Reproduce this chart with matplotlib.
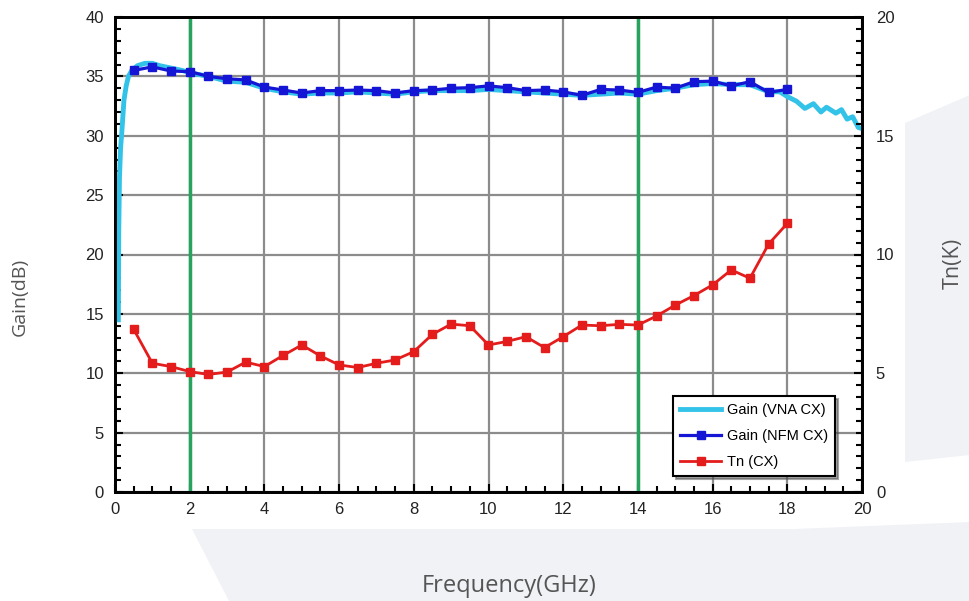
import matplotlib.pyplot as plt
import numpy as np
from matplotlib.patches import Polygon
from matplotlib.ticker import MultipleLocator

# --- data ---
nfm_freq = [0.5, 1.0, 1.5, 2.0, 2.5, 3.0, 3.5, 4.0, 4.5, 5.0, 5.5, 6.0, 6.5, 7.0, 7.5, 8.0, 8.5, 9.0,
            9.5, 10.0, 10.5, 11.0, 11.5, 12.0, 12.5, 13.0, 13.5, 14.0, 14.5, 15.0, 15.5, 16.0, 16.5, 17.0,
            17.5, 18.0]
nfm_gain = [35.5, 35.8, 35.45, 35.4, 35.0, 34.8, 34.7, 34.1, 33.85, 33.6, 33.8, 33.8, 33.85, 33.8, 33.6, 33.8,
            33.85, 34.0, 34.05, 34.2, 34.05, 33.8, 33.85, 33.7, 33.4, 33.9, 33.85, 33.65, 34.1, 34.0, 34.55, 34.6,
            34.2, 34.55, 33.65, 33.9]

tn_cx = [6.85, 5.42, 5.28, 5.07, 4.95, 5.05, 5.47, 5.28, 5.75, 6.19, 5.73, 5.35, 5.24, 5.42, 5.56, 5.91,
         6.64, 7.07, 7.0, 6.19, 6.34, 6.54, 6.08, 6.54, 7.03, 7.0, 7.06, 7.03, 7.41, 7.87, 8.27, 8.72,
         9.35, 9.0, 10.44, 11.31]

vna_freq = [0.09, 0.10, 0.12, 0.15, 0.18, 0.24, 0.30, 0.36, 0.45, 0.6, 0.8, 1.0, 1.2, 1.5, 1.8, 2.0, 2.5,
            3.0, 3.5, 4.0, 4.5, 5.0, 5.5, 6.0, 6.5, 7.0, 7.5, 8.0, 8.5, 9.0, 9.5, 10.0, 10.5, 11.0, 11.5,
            12.0, 12.5, 13.0, 13.5, 14.0, 14.5, 15.0, 15.5, 16.0, 16.5, 17.0, 17.5, 17.8, 18.0, 18.25,
            18.47, 18.7, 18.9, 19.05, 19.3, 19.45, 19.6, 19.75, 19.9, 20.0]
vna_gain = [14.5, 21.8, 26.5, 29.0, 30.2, 33.0, 34.2, 35.0, 35.5, 35.9, 36.1, 36.1, 35.9, 35.7, 35.5, 35.3,
            35.0, 34.6, 34.5, 34.0, 33.7, 33.5, 33.6, 33.6, 33.7, 33.6, 33.5, 33.7, 33.8, 33.8, 33.8, 33.9,
            33.8, 33.7, 33.6, 33.5, 33.4, 33.5, 33.6, 33.5, 33.8, 34.0, 34.3, 34.4, 34.3, 34.3, 33.7, 33.7,
            33.3, 32.9, 32.3, 32.7, 32.0, 32.4, 31.9, 32.2, 31.4, 31.6, 30.7, 30.6]

band_edges = [2, 14]

fig = plt.figure(figsize=(9.7, 6.01), dpi=100)

# faint background shapes
bg = '#f1f2f6'
fig.patches.append(Polygon([[905 / 970, 1 - 123 / 601], [1.0, 1 - 95 / 601], [1.0, 1 - 455 / 601],
                            [905 / 970, 1 - 462 / 601]], closed=True, transform=fig.transFigure,
                           facecolor=bg, edgecolor='none', zorder=0))
fig.patches.append(Polygon([[192 / 970, 1 - 529 / 601], [794 / 970, 1 - 529 / 601], [1.0, 1 - 522 / 601],
                            [1.0, 0.0], [229 / 970, 0.0]], closed=True, transform=fig.transFigure,
                           facecolor=bg, edgecolor='none', zorder=0))

ax = fig.add_axes([115 / 970, 1 - 492 / 601, 747 / 970, 475 / 601])
ax2 = ax.twinx()

for x in band_edges:
    ax.axvline(x, color='#26a35c', lw=2.5, zorder=2)

l1, = ax.plot(vna_freq, vna_gain, color='#33c3e8', lw=3.5, label='Gain (VNA CX)', zorder=3)
l2, = ax.plot(nfm_freq, nfm_gain, color='#1515d5', lw=2.3, marker='s', ms=6, label='Gain (NFM CX)', zorder=4)
l3, = ax2.plot(nfm_freq, tn_cx, color='#e41c1c', lw=2, marker='s', ms=6, label='Tn (CX)', zorder=4)

ax.set_xlim(0, 20)
ax.set_ylim(0, 40)
ax2.set_ylim(0, 20)

ax.xaxis.set_major_locator(MultipleLocator(2))
ax.xaxis.set_minor_locator(MultipleLocator(0.5))
ax.yaxis.set_major_locator(MultipleLocator(5))
ax.yaxis.set_minor_locator(MultipleLocator(1))
ax2.yaxis.set_major_locator(MultipleLocator(5))
ax2.yaxis.set_minor_locator(MultipleLocator(0.5))

ax.grid(True, which='major', color='#8c8c8c', lw=1.6)
ax.set_axisbelow(True)

for a in (ax, ax2):
    for sp in a.spines.values():
        sp.set_linewidth(2)
    a.tick_params(which='both', direction='in', width=1.5, colors='black', labelsize=12)
    a.tick_params(which='major', length=6)
    a.tick_params(which='minor', length=4)
    for lab in a.get_xticklabels() + a.get_yticklabels():
        lab.set_fontfamily('Liberation Sans')
        lab.set_color('#222222')
ax.tick_params(axis='x', pad=7)
ax.tick_params(axis='y', pad=8)
ax2.tick_params(axis='y', pad=10)

# axis titles (sizes differ slightly in the reference)
label_kw = dict(family='Open Sans', color='#555555')
fig.text(20 / 970, 1 - 297 / 601, 'Gain(dB)', rotation=90, ha='center', va='center', size=14, **label_kw)
fig.text(953 / 970, 1 - 263 / 601, 'Tn(K)', rotation=90, ha='center', va='center', size=15.5, **label_kw)
fig.text(509 / 970, 1 - 586 / 601, 'Frequency(GHz)', ha='center', va='center', size=17, **label_kw)

leg = ax2.legend(handles=[l1, l2, l3], loc='upper left', bbox_to_anchor=(0.747, 0.202),
                 prop={'family': 'Liberation Sans', 'size': 10.5}, frameon=True, fancybox=False,
                 shadow=True, handlelength=2.8, borderpad=0.5, labelspacing=0.8, handletextpad=0.4,
                 borderaxespad=0)
leg.get_frame().set_edgecolor('black')
leg.get_frame().set_linewidth(1.5)

fig.savefig('out.png', dpi=100)
